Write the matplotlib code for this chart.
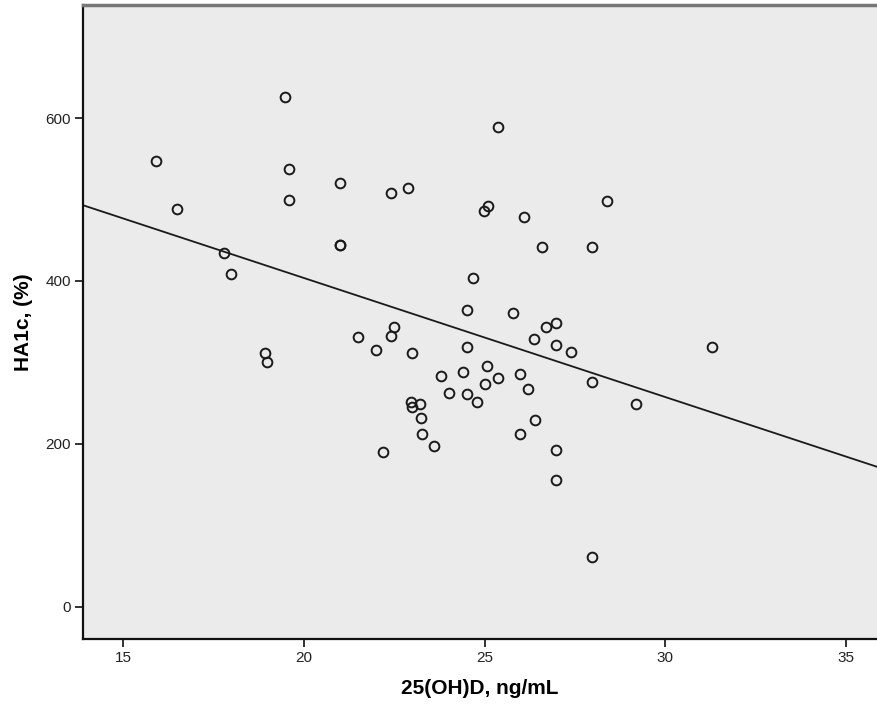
"""
Scatter of HA1c against 25(OH)D with fitted line.
"""
import matplotlib
matplotlib.use('Agg')
import matplotlib.pyplot as plt

vit_d = [15.90, 16.49, 17.79, 17.99, 18.92, 18.97, 19.48, 19.59, 19.59, 20.99,
         20.99, 20.99, 21.49, 21.99, 22.20, 22.40, 22.40, 22.49, 22.89, 22.99,
         22.97, 22.98, 23.20, 23.25, 23.28, 23.59, 23.80, 24.01, 24.39, 24.50,
         24.50, 24.50, 24.68, 24.79, 24.98, 25.00, 25.08, 25.10, 25.38, 25.38,
         25.80, 25.99, 25.99, 26.09, 26.19, 26.36, 26.39, 26.59, 26.69, 26.99,
         26.99, 26.99, 26.99, 27.38, 27.98, 27.98, 27.98, 28.40, 29.20, 31.29]
ha1c = [547, 488, 434, 409, 312, 301, 626, 538, 499, 520,
        444, 444, 331, 315, 190, 508, 332, 343, 514, 312,
        252, 245, 249, 232, 212, 197, 283, 263, 288, 364,
        319, 261, 404, 252, 486, 274, 296, 492, 589, 281,
        361, 286, 212, 478, 268, 329, 230, 442, 343, 349,
        322, 192, 156, 313, 442, 276, 61, 498, 249, 319]

# fitted line end points
fit_x = [13.885, 35.86]
fit_y = [493, 172]

x_ticks = [15, 20, 25, 30, 35]
y_ticks = [0, 200, 400, 600]

plt.rcParams['font.family'] = ['Liberation Sans', 'DejaVu Sans']

fig = plt.figure(figsize=(8.77, 7.11), dpi=100)
ax = fig.add_axes([0.0946, 0.1013, 0.9054, 0.8917])
ax.set_facecolor('#ebebeb')

ax.plot(fit_x, fit_y, color='#1a1a1a', linewidth=1.3, zorder=2)
ax.plot(vit_d, ha1c, linestyle='none', marker='o', markersize=7,
        markerfacecolor='none', markeredgecolor='#1a1a1a', markeredgewidth=1.4, zorder=3)

ax.set_xlim(13.885, 35.86)
ax.set_ylim(-39.3, 738.7)
ax.set_xticks(x_ticks)
ax.set_yticks(y_ticks)
ax.tick_params(direction='out', length=6, width=1.3, labelsize=11,
               colors='#222222', pad=2.5)

for side in ['left', 'bottom']:
    ax.spines[side].set_linewidth(1.6)
    ax.spines[side].set_color('#111111')
ax.spines['top'].set_linewidth(2.5)
ax.spines['top'].set_color('#777777')
ax.spines['right'].set_visible(False)

ax.set_xlabel('25(OH)D, ng/mL', fontsize=15, fontweight='bold', labelpad=10)
ax.set_ylabel('HA1c, (%)', fontsize=15, fontweight='bold', labelpad=9)

plt.savefig('out.png', dpi=100)
